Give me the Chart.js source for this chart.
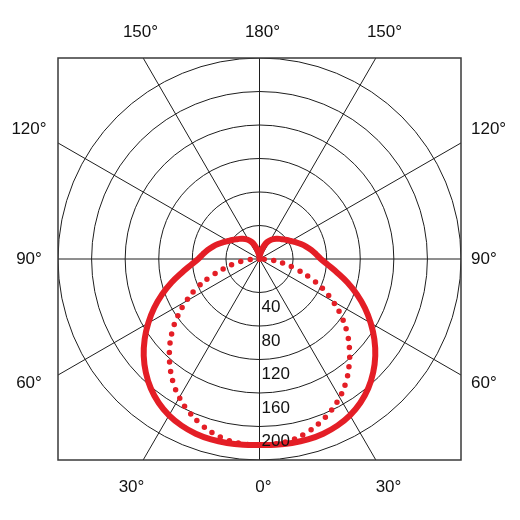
<!DOCTYPE html>
<html>
<head>
<meta charset="utf-8">
<script src="https://cdn.jsdelivr.net/npm/chart.js@4/dist/chart.umd.min.js"></script>
<style>
  body { margin: 0; background: #fff; }
  #wrap { width: 520px; height: 520px; }
</style>
</head>
<body>
<div id="wrap"><canvas id="myChart" width="520" height="520"></canvas></div>
<script>
// polar angles (deg, 0 = straight down) and intensities
const angles = [0, 5, 10, 15, 20, 25, 30, 35, 40, 45, 50, 55, 60, 65, 70, 75, 80, 85, 90,
  95, 100, 105, 110, 115, 120, 125, 130, 135, 140, 145, 150, 155, 160, 165, 170, 175, 180];
const solidValues = [222, 222.5, 223, 223, 222, 219.5, 215.5, 209.5, 201.5, 191.5, 180, 167, 153, 138.5, 123.5, 108.5, 94, 82, 73,
  67.5, 62.5, 57.5, 52.5, 47.5, 43, 39.5, 36.5, 34, 31.5, 29, 26, 22.5, 18, 12.5, 7, 3, 0];
const dottedAngles = [0, 5, 10, 15, 20, 25, 30, 35, 40, 45, 50, 55, 60, 65, 70, 75, 80, 85, 90];
const dottedValues = [222, 221.5, 219.5, 215, 208.5, 200.5, 191, 179.5, 166, 151.5, 136, 119, 101, 82.5, 63, 44, 29, 15, 0];

const rings = [40, 80, 120, 160, 200, 240];
const ringLabels = ["40", "80", "120", "160", "200"];
const spokeAngles = [0, 30, 60, 90, 120, 150, 180, 210, 240, 270, 300, 330];
const topLabels = ["150°", "180°", "150°"];
const bottomLabels = ["30°", "0°", "30°"];
const sideLabels = ["120°", "90°", "60°"];

const RED = "#e41e26";

// mirror one half of the curve onto both sides
function toXY(angs, vals) {
  const pts = [];
  for (let i = angs.length - 1; i >= 0; i--) {
    const t = angs[i] * Math.PI / 180;
    pts.push({ x: -vals[i] * Math.sin(t), y: -vals[i] * Math.cos(t) });
  }
  for (let i = 1; i < angs.length; i++) {
    const t = angs[i] * Math.PI / 180;
    pts.push({ x: vals[i] * Math.sin(t), y: -vals[i] * Math.cos(t) });
  }
  return pts;
}

const FONT = "17px 'Liberation Sans', Arial, sans-serif";

const polarGrid = {
  id: "polarGrid",
  beforeDatasetsDraw(chart) {
    const { ctx, chartArea: a, scales: { x, y } } = chart;
    const cx = x.getPixelForValue(0), cy = y.getPixelForValue(0);
    ctx.save();
    ctx.beginPath();
    ctx.rect(a.left, a.top, a.width, a.height);
    ctx.clip();
    ctx.strokeStyle = "#1e1e1e";
    ctx.lineWidth = 1;
    rings.forEach(v => {
      const rx = x.getPixelForValue(v) - cx;
      const ry = cy - y.getPixelForValue(v);
      ctx.beginPath();
      ctx.ellipse(cx, cy, rx, ry, 0, 0, Math.PI * 2);
      ctx.stroke();
    });
    spokeAngles.forEach(d => {
      const t = d * Math.PI / 180;
      ctx.beginPath();
      ctx.moveTo(cx, cy);
      ctx.lineTo(x.getPixelForValue(500 * Math.sin(t)), y.getPixelForValue(-500 * Math.cos(t)));
      ctx.stroke();
    });
    ctx.restore();
    ctx.save();
    ctx.strokeStyle = "#3a3a3a";
    ctx.lineWidth = 1.5;
    ctx.strokeRect(a.left, a.top, a.width, a.height);
    ctx.restore();
  },
  afterDatasetsDraw(chart) {
    const { ctx, chartArea: a, scales: { x, y } } = chart;
    const cx = x.getPixelForValue(0), cy = y.getPixelForValue(0);
    ctx.save();
    ctx.fillStyle = "#111";
    ctx.font = FONT;
    ctx.textBaseline = "middle";
    // ring values, just below each ring on the 0° line
    ctx.textAlign = "left";
    ringLabels.forEach((s, i) => {
      ctx.fillText(s, cx + 2, y.getPixelForValue(-rings[i]) + 15);
    });
    // angle labels around the box
    ctx.textAlign = "center";
    const topX = [cx - 119, cx + 3, cx + 125];
    const botX = [cx - 128, cx + 4, cx + 129];
    topLabels.forEach((s, i) => ctx.fillText(s, topX[i], a.top - 26));
    bottomLabels.forEach((s, i) => ctx.fillText(s, botX[i], a.bottom + 27));
    const sideY = [cy - 130, cy, cy + 124];
    sideLabels.forEach((s, i) => ctx.fillText(s, a.left - 29, sideY[i]));
    ctx.textAlign = "left";
    sideLabels.forEach((s, i) => ctx.fillText(s, a.right + 10, sideY[i]));
    ctx.restore();
  }
};

const data = {
  datasets: [
    {
      label: "solid",
      data: toXY(angles, solidValues),
      showLine: true,
      borderColor: RED,
      borderWidth: 6,
      pointRadius: 0,
      tension: 0.4,
      borderJoinStyle: "round",
      borderCapStyle: "round",
      fill: false,
    },
    {
      label: "dotted",
      data: toXY(dottedAngles, dottedValues),
      showLine: true,
      borderColor: RED,
      borderWidth: 5.5,
      borderDash: [0, 9.5],
      borderCapStyle: "round",
      pointRadius: 0,
      tension: 0.4,
      fill: false,
    },
  ],
};

const config = {
  type: "scatter",
  data,
  options: {
    responsive: false,
    animation: false,
    layout: { padding: { left: 58, right: 59, top: 58, bottom: 60 } },
    scales: {
      x: { type: "linear", min: -240, max: 240, display: false },
      y: { type: "linear", min: -240, max: 240, display: false },
    },
    plugins: {
      legend: { display: false },
      tooltip: { enabled: false },
    },
  },
  plugins: [polarGrid],
};

const myChart = new Chart(document.getElementById("myChart"), config);
</script>
</body>
</html>
